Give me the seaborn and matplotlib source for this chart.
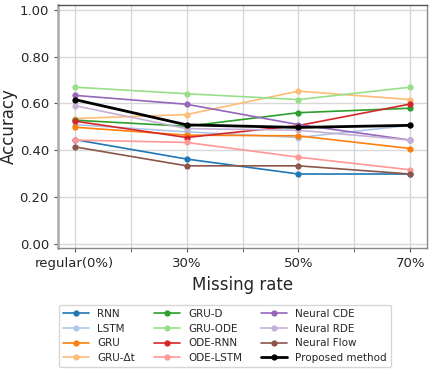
import numpy as np
import pandas as pd
import seaborn as sns
import matplotlib.pyplot as plt
from matplotlib.ticker import MultipleLocator

# missing rate categories
rates = ['regular(0%)', '30%', '50%', '70%']

# accuracy
rnn = [0.445, 0.362, 0.298, 0.298]
lstm = [0.509, 0.478, 0.454, 0.506]
gru = [0.498, 0.464, 0.461, 0.407]
gru_dt = [0.535, 0.552, 0.652, 0.616]
gru_d = [0.528, 0.502, 0.560, 0.579]
gru_ode = [0.669, 0.641, 0.616, 0.669]
ode_rnn = [0.524, 0.454, 0.505, 0.597]
ode_lstm = [0.443, 0.433, 0.370, 0.316]
neural_cde = [0.634, 0.596, 0.509, 0.443]
neural_rde = [0.590, 0.492, 0.485, 0.443]
neural_flow = [0.414, 0.333, 0.333, 0.298]
proposed = [0.616, 0.508, 0.497, 0.506]

models = ['RNN', 'LSTM', 'GRU', 'GRU-\u0394t', 'GRU-D', 'GRU-ODE', 'ODE-RNN',
          'ODE-LSTM', 'Neural CDE', 'Neural RDE', 'Neural Flow', 'Proposed method']
values = [rnn, lstm, gru, gru_dt, gru_d, gru_ode, ode_rnn, ode_lstm,
          neural_cde, neural_rde, neural_flow, proposed]

rows = []
for m, vals in zip(models, values):
    for i, v in enumerate(vals):
        rows.append({'model': m, 'pos': i, 'acc': v})
df = pd.DataFrame(rows)

tab20 = sns.color_palette('tab20', 20)
colors = {m: tab20[i] for i, m in enumerate(models[:-1])}
colors['Proposed method'] = 'black'

sns.set_style('whitegrid')
plt.rcParams['font.family'] = ['DejaVu Sans']

fig = plt.figure(figsize=(4.32, 3.75), dpi=100)
ax = fig.add_axes([58 / 432, 1 - 248 / 375, 369 / 432, 243 / 375])

for m in models:
    sub = df[df['model'] == m]
    lw = 2.0 if m == 'Proposed method' else 1.2
    sns.lineplot(data=sub, x='pos', y='acc', ax=ax, color=colors[m], lw=lw,
                 marker='o', markersize=4.5, markeredgewidth=0, label=m)

ax.set_xlim(-0.15, 3.15)
ax.set_ylim(-0.018, 1.02)
ax.set_xticks(range(len(rates)))
ax.set_xticklabels(rates, fontsize=9.5)
ax.xaxis.set_minor_locator(MultipleLocator(0.5))
ax.set_yticks(np.arange(0, 1.01, 0.2))
ax.set_yticklabels([f'{t:.2f}' for t in np.arange(0, 1.01, 0.2)], fontsize=9.5)
ax.tick_params(axis='both', which='both', length=3, color='#555555',
               bottom=True, left=True)
ax.grid(True, which='major', color='#d8d8d8', lw=1)
ax.grid(True, which='minor', axis='x', color='#d8d8d8', lw=1)
for s in ax.spines.values():
    s.set_color('#888888')
    s.set_linewidth(1.0)
ax.spines['top'].set_color('#555555')
ax.spines['left'].set_linewidth(1.8)
ax.spines['left'].set_color('#aaaaaa')

ax.set_xlabel('Missing rate', fontsize=12)
ax.set_ylabel('Accuracy', fontsize=12, labelpad=1)

handles, labels = ax.get_legend_handles_labels()
ax.get_legend().remove()
fig.legend(handles, labels, ncol=3, loc='center', fontsize=7.5,
           bbox_to_anchor=(225 / 432, 1 - 336 / 375), frameon=True,
           handlelength=2.5, columnspacing=1.8, labelspacing=0.45)

fig.savefig('out.png', dpi=100)
